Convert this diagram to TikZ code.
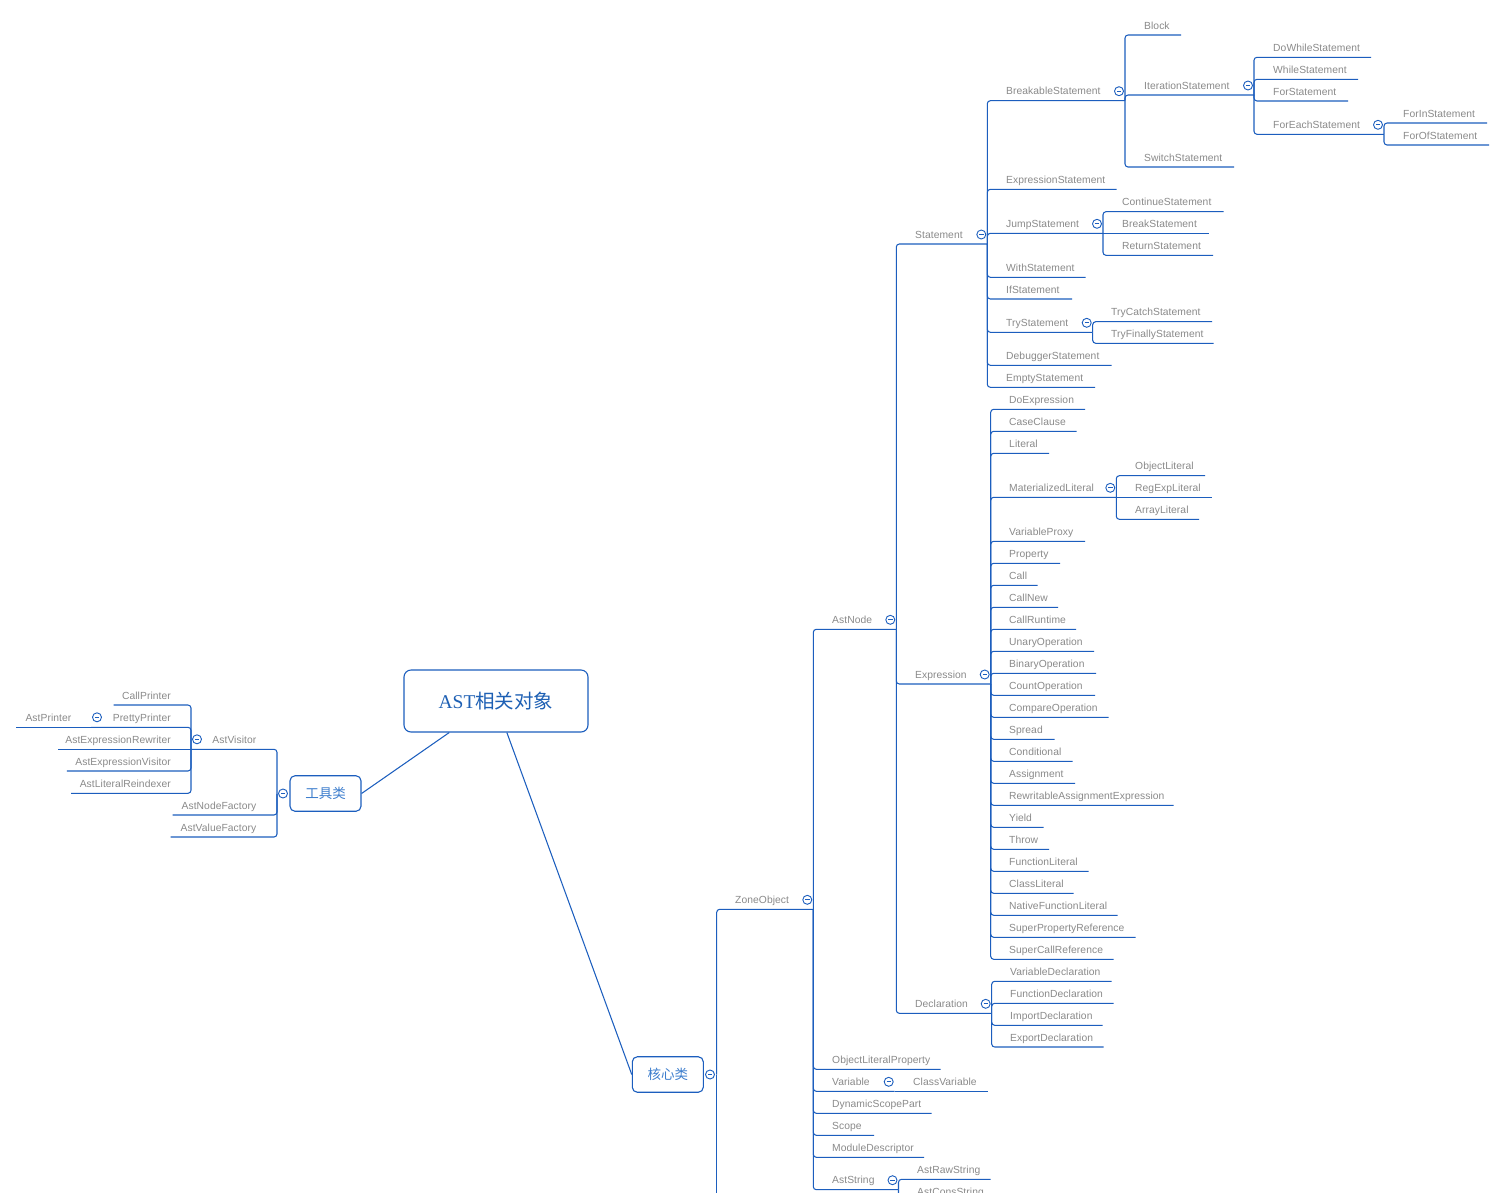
\documentclass[tikz,border=0pt]{standalone}
\usepackage{fontspec}
\setmainfont{Liberation Sans}
\newfontfamily\cjk{Noto Sans CJK SC}
\newfontfamily\rootserif{Liberation Serif}
\usetikzlibrary{calc}
\definecolor{lnblue}{RGB}{28,94,190}
\definecolor{txgray}{RGB}{138,138,138}
\definecolor{rootblue}{RGB}{30,96,180}
\definecolor{boxtxt}{RGB}{60,125,205}
% right-side node: name, text x, underline y, underline end x, text
\newcommand\RN[5]{\node[lblR] (#1) at (#2,#3-6) {#5};\coordinate (#1-e) at (#4,#3);}
% left-side node: name, text right x, underline y, underline end x, text
\newcommand\LN[5]{\node[lblL] (#1) at (#2,#3-6) {#5};\coordinate (#1-e) at (#4,#3);}
\newcommand\CN[2]{\draw[conn] (#1-e) |- (#2-e);}
\newcommand\CS[2]{\draw[conn] (#1-e) -- (#2-e);}
\newcommand\TR[1]{\node[tog] (#1-t) at ($(#1-e)+(-6,-9.5)$) {};}
\newcommand\TL[1]{\node[tog] (#1-t) at ($(#1-e)+(6,-10)$) {};}
\begin{document}
\begin{tikzpicture}[x=1pt,y=-1pt,
  lbl/.style={font=\addfontfeatures{LetterSpace=0.6}\fontsize{10.3}{12}\selectfont, text=txgray, inner sep=0pt},
  lblR/.style={lbl, anchor=base west},
  lblL/.style={lbl, anchor=base east},
  conn/.style={draw=lnblue, line width=1.05pt, rounded corners=3pt},
  edge/.style={draw=lnblue, line width=1.05pt},
  tog/.style={circle, draw=lnblue, fill=white, line width=0.9pt, minimum size=9pt, inner sep=0pt,
    path picture={\draw[lnblue, line width=0.9pt] ([xshift=2.3pt]path picture bounding box.west) -- ([xshift=-2.3pt]path picture bounding box.east);}},
  rootbox/.style={draw=lnblue, line width=1.1pt, rounded corners=7pt, fill=white, minimum width=184pt, minimum height=62pt, inner sep=0pt, text=rootblue},
  subbox/.style={draw=lnblue, line width=1.1pt, rounded corners=5pt, fill=white, minimum width=71pt, minimum height=35.5pt, inner sep=0pt, text=boxtxt, font=\cjk\fontsize{13.5}{16}\selectfont}
]
\useasboundingbox[fill=white] (0,0) rectangle (1505,1192);

% ---------- central boxes ----------
\node[rootbox] (root) at (496,701) {\fontsize{19.5}{23}\selectfont\rootserif AST\cjk 相关对象};
\node[subbox] (tools) at (325.5,793.5) {工具类};
\node[subbox] (core) at (667.8,1074.5) {核心类};
\draw[edge] (root.214.8) -- (tools.east);
\draw[edge] (root.-71) -- (core.west);
\coordinate (core-e) at (716.7,1074.5);
\coordinate (core-more) at (716.7,1230);
\coordinate (tools-e) at (277,793.5);

% ---------- left: tools ----------
\LN{visitor}{256.5}{749.3}{191}{AstVisitor}
\LN{nodefactory}{256.5}{815}{172.5}{AstNodeFactory}
\LN{valuefactory}{256.5}{837}{170.6}{AstValueFactory}
\LN{callprinter}{171}{705}{113.7}{CallPrinter}
\LN{prettyprinter}{171}{727.3}{91}{PrettyPrinter}
\LN{astprinter}{71.5}{727.3}{16}{AstPrinter}
\LN{rewriter}{171}{749.3}{58}{AstExpressionRewriter}
\LN{exprvisitor}{171}{771}{66.8}{AstExpressionVisitor}
\LN{reindexer}{171}{793.3}{71}{AstLiteralReindexer}

% ---------- right: core ----------
\RN{zone}{735}{909.3}{813.3}{ZoneObject}
\RN{astnode}{832}{629.3}{896.3}{AstNode}
\RN{stmt}{915}{244}{987.3}{Statement}
\RN{breakable}{1006}{100.7}{1125}{BreakableStatement}
\RN{block}{1144}{35}{1181}{Block}
\RN{iteration}{1144}{95}{1254}{IterationStatement}
\RN{dowhile}{1273}{57.3}{1371}{DoWhileStatement}
\RN{while}{1273}{79.3}{1358}{WhileStatement}
\RN{for}{1273}{101}{1348}{ForStatement}
\RN{foreach}{1273}{134.3}{1384}{ForEachStatement}
\RN{forin}{1403}{123}{1487}{ForInStatement}
\RN{forof}{1403}{145}{1489}{ForOfStatement}
\RN{switch}{1144}{167}{1234}{SwitchStatement}
\RN{exprstmt}{1006}{189.3}{1116.7}{ExpressionStatement}
\RN{jump}{1006}{233.3}{1103}{JumpStatement}
\RN{continue}{1122}{211.7}{1223.5}{ContinueStatement}
\RN{break}{1122}{233.3}{1209}{BreakStatement}
\RN{return}{1122}{255.3}{1213}{ReturnStatement}
\RN{with}{1006}{277.3}{1085.7}{WithStatement}
\RN{if}{1006}{299}{1072}{IfStatement}
\RN{try}{1006}{332.3}{1092.7}{TryStatement}
\RN{trycatch}{1111}{321.7}{1212}{TryCatchStatement}
\RN{tryfinally}{1111}{343.3}{1213.7}{TryFinallyStatement}
\RN{debugger}{1006}{365.3}{1111.7}{DebuggerStatement}
\RN{empty}{1006}{387.3}{1095}{EmptyStatement}

\RN{expr}{915}{684}{990.7}{Expression}
\RN{doexpr}{1009}{409.3}{1085}{DoExpression}
\RN{caseclause}{1009}{431.3}{1076.7}{CaseClause}
\RN{literal}{1009}{453.3}{1049}{Literal}
\RN{materialized}{1009}{497.3}{1116.3}{MaterializedLiteral}
\RN{objlit}{1135}{475.7}{1205}{ObjectLiteral}
\RN{regexp}{1135}{497.3}{1212}{RegExpLiteral}
\RN{arraylit}{1135}{519.3}{1199}{ArrayLiteral}
\RN{varproxy}{1009}{541.3}{1085}{VariableProxy}
\RN{property}{1009}{563.3}{1060}{Property}
\RN{call}{1009}{585.3}{1037.7}{Call}
\RN{callnew}{1009}{607.3}{1058}{CallNew}
\RN{callruntime}{1009}{629.3}{1076}{CallRuntime}
\RN{unary}{1009}{651.3}{1094}{UnaryOperation}
\RN{binary}{1009}{673.3}{1096}{BinaryOperation}
\RN{count}{1009}{695.3}{1095}{CountOperation}
\RN{compare}{1009}{717.3}{1108.7}{CompareOperation}
\RN{spread}{1009}{739.3}{1054.7}{Spread}
\RN{conditional}{1009}{761.3}{1072.7}{Conditional}
\RN{assignment}{1009}{783.3}{1075}{Assignment}
\RN{rewritable}{1009}{805.3}{1173.7}{RewritableAssignmentExpression}
\RN{yield}{1009}{827.3}{1043.7}{Yield}
\RN{throw}{1009}{849.3}{1049}{Throw}
\RN{funclit}{1009}{871.3}{1088.7}{FunctionLiteral}
\RN{classlit}{1009}{893.3}{1073.7}{ClassLiteral}
\RN{nativefunc}{1009}{915.3}{1117.7}{NativeFunctionLiteral}
\RN{superprop}{1009}{937.3}{1135.7}{SuperPropertyReference}
\RN{supercall}{1009}{959.3}{1113.7}{SuperCallReference}

\RN{decl}{915}{1013.3}{991.7}{Declaration}
\RN{vardecl}{1010}{981.3}{1111.7}{VariableDeclaration}
\RN{funcdecl}{1010}{1003.3}{1113.7}{FunctionDeclaration}
\RN{importdecl}{1010}{1025.3}{1102.7}{ImportDeclaration}
\RN{exportdecl}{1010}{1047}{1103.7}{ExportDeclaration}

\RN{objlitprop}{832}{1069.3}{940.7}{ObjectLiteralProperty}
\RN{variable}{832}{1091.3}{894.7}{Variable}
\RN{classvar}{913}{1091.3}{987.7}{ClassVariable}
\RN{dynscope}{832}{1113.3}{931.7}{DynamicScopePart}
\RN{scope}{832}{1135.3}{874}{Scope}
\RN{moduledesc}{832}{1157.3}{924}{ModuleDescriptor}
\RN{aststring}{832}{1189.7}{898.5}{AstString}
\RN{astraw}{917}{1179.3}{990.7}{AstRawString}
\RN{astcons}{917}{1201.3}{993}{AstConsString}

% ---------- connectors ----------
\CN{tools}{visitor}\CN{tools}{nodefactory}\CN{tools}{valuefactory}
\CN{visitor}{callprinter}\CN{visitor}{prettyprinter}\CS{visitor}{rewriter}
\CN{visitor}{exprvisitor}\CN{visitor}{reindexer}
\CS{prettyprinter}{astprinter}

\CN{core}{zone}\draw[conn] (core-e) -- (core-more);
\CN{zone}{astnode}\CN{zone}{objlitprop}\CN{zone}{variable}\CN{zone}{dynscope}
\CN{zone}{scope}\CN{zone}{moduledesc}\CN{zone}{aststring}
\CS{variable}{classvar}
\CN{aststring}{astraw}\CN{aststring}{astcons}

\CN{astnode}{stmt}\CN{astnode}{expr}\CN{astnode}{decl}

\CN{stmt}{breakable}\CN{stmt}{exprstmt}\CN{stmt}{jump}\CN{stmt}{with}
\CN{stmt}{if}\CN{stmt}{try}\CN{stmt}{debugger}\CN{stmt}{empty}
\CN{breakable}{block}\CN{breakable}{iteration}\CN{breakable}{switch}
\CN{iteration}{dowhile}\CN{iteration}{while}\CN{iteration}{for}\CN{iteration}{foreach}
\CN{foreach}{forin}\CN{foreach}{forof}
\CN{jump}{continue}\CS{jump}{break}\CN{jump}{return}
\CN{try}{trycatch}\CN{try}{tryfinally}

\foreach \c in {doexpr,caseclause,literal,materialized,varproxy,property,call,callnew,
  callruntime,unary,binary,count,compare,spread,conditional,assignment,rewritable,
  yield,throw,funclit,classlit,nativefunc,superprop,supercall}{\CN{expr}{\c}}
\CN{materialized}{objlit}\CS{materialized}{regexp}\CN{materialized}{arraylit}

\CN{decl}{vardecl}\CN{decl}{funcdecl}\CN{decl}{importdecl}\CN{decl}{exportdecl}

% ---------- collapse toggles ----------
\node[tog] (core-t) at (710,1074.5) {};
\node[tog] (tools-t) at (283,793.5) {};
\TL{visitor}\TL{prettyprinter}
\TR{zone}\TR{astnode}\TR{stmt}\TR{breakable}\TR{iteration}\TR{foreach}
\TR{jump}\TR{try}\TR{expr}\TR{materialized}\TR{decl}\TR{variable}\TR{aststring}
\end{tikzpicture}
\end{document}
